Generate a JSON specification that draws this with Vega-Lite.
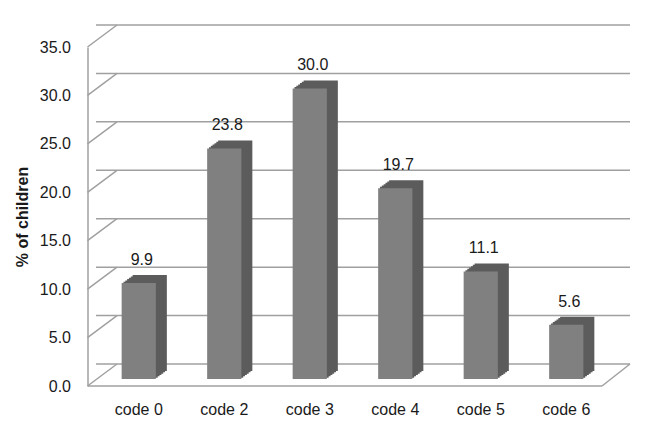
{
  "$schema": "https://vega.github.io/schema/vega-lite/v6.json",
  "width": 513,
  "height": 339,
  "autosize": {"type": "none"},
  "padding": {"left": 96, "top": 47, "right": 37, "bottom": 50},
  "background": "white",
  "config": {
    "view": {"stroke": null},
    "font": "Liberation Sans",
    "axisY": {
      "domain": true, "domainColor": "#a0a0a0", "domainWidth": 1.5, "offset": 8.5,
      "ticks": false, "grid": false, "labelPadding": 17, "labelFontSize": 16,
      "labelColor": "#1a1a1a", "labelFont": "Liberation Sans",
      "titleFontSize": 16, "titleFontWeight": "bold", "titleColor": "#1a1a1a",
      "titleFont": "Liberation Sans", "titlePadding": 9,
      "values": [0, 5, 10, 15, 20, 25, 30, 35], "format": ".1f"
    },
    "axisX": {
      "domain": false, "ticks": false, "grid": false, "labelPadding": 15,
      "labelFontSize": 16, "labelColor": "#1a1a1a", "labelAngle": 0, "labelFont": "Liberation Sans"
    }
  },
  "datasets": {
    "bars": [
      {"code": "code 0", "pct": 9.9},
      {"code": "code 2", "pct": 23.8},
      {"code": "code 3", "pct": 30.0},
      {"code": "code 4", "pct": 19.7},
      {"code": "code 5", "pct": 11.1},
      {"code": "code 6", "pct": 5.6}
    ],
    "ticks": [{"v": 0}, {"v": 5}, {"v": 10}, {"v": 15}, {"v": 20}, {"v": 25}, {"v": 30}, {"v": 35}]
  },
  "resolve": {"scale": {"x": "independent"}},
  "layer": [
    {
      "data": {"name": "ticks"},
      "mark": {"type": "rule", "color": "#a0a0a0", "strokeWidth": 1.5, "xOffset": 21, "x2Offset": 22, "yOffset": -22},
      "encoding": {
        "y": {"field": "v", "type": "quantitative", "title": "% of children", "scale": {"domain": [0, 35], "nice": false}}
      }
    },
    {
      "data": {"name": "ticks"},
      "mark": {"type": "rule", "color": "#a0a0a0", "strokeWidth": 1.5, "xOffset": -8.5, "x2Offset": 21, "y2Offset": -22},
      "encoding": {
        "x": {"datum": 0, "type": "quantitative", "scale": {"domain": [0, 1]}, "axis": null},
        "x2": {"datum": 0},
        "y": {"field": "v", "type": "quantitative", "title": "% of children"},
        "y2": {"field": "v"}
      }
    },
    {
      "data": {"name": "ticks"},
      "transform": [{"filter": "datum.v === 0"}],
      "mark": {"type": "rule", "color": "#a0a0a0", "strokeWidth": 1.5, "xOffset": -8, "x2Offset": -7},
      "encoding": {
        "x": {"datum": 0, "type": "quantitative", "scale": {"domain": [0, 1]}, "axis": null},
        "x2": {"datum": 1},
        "y": {"field": "v", "type": "quantitative", "title": "% of children"}
      }
    },
    {
      "data": {"name": "ticks"},
      "transform": [{"filter": "datum.v === 0"}],
      "mark": {"type": "rule", "color": "#a0a0a0", "strokeWidth": 1.5, "xOffset": -7, "x2Offset": 21, "y2Offset": -22},
      "encoding": {
        "x": {"datum": 1, "type": "quantitative", "scale": {"domain": [0, 1]}, "axis": null},
        "x2": {"datum": 1},
        "y": {"field": "v", "type": "quantitative", "title": "% of children"},
        "y2": {"field": "v"}
      }
    },
    {
      "data": {"name": "bars"},
      "mark": {"type": "bar", "color": "#5c5c5c", "xOffset": 11, "x2Offset": 11, "yOffset": -15, "y2Offset": -15},
      "encoding": {
        "x": {"field": "code", "type": "nominal", "sort": null, "scale": {"paddingInner": 0.6, "paddingOuter": 0.3}, "axis": null},
        "y": {"field": "pct", "type": "quantitative", "title": "% of children"}
      }
    },
    {
      "data": {"name": "bars"},
      "mark": {"type": "bar", "color": "#5c5c5c", "xOffset": 9.17, "x2Offset": 9.17, "yOffset": -13.67, "y2Offset": -13.67},
      "encoding": {
        "x": {"field": "code", "type": "nominal", "sort": null, "scale": {"paddingInner": 0.6, "paddingOuter": 0.3}, "axis": null},
        "y": {"field": "pct", "type": "quantitative", "title": "% of children"}
      }
    },
    {
      "data": {"name": "bars"},
      "mark": {"type": "bar", "color": "#5c5c5c", "xOffset": 7.33, "x2Offset": 7.33, "yOffset": -12.33, "y2Offset": -12.33},
      "encoding": {
        "x": {"field": "code", "type": "nominal", "sort": null, "scale": {"paddingInner": 0.6, "paddingOuter": 0.3}, "axis": null},
        "y": {"field": "pct", "type": "quantitative", "title": "% of children"}
      }
    },
    {
      "data": {"name": "bars"},
      "mark": {"type": "bar", "color": "#5c5c5c", "xOffset": 5.5, "x2Offset": 5.5, "yOffset": -11, "y2Offset": -11},
      "encoding": {
        "x": {"field": "code", "type": "nominal", "sort": null, "scale": {"paddingInner": 0.6, "paddingOuter": 0.3}, "axis": null},
        "y": {"field": "pct", "type": "quantitative", "title": "% of children"}
      }
    },
    {
      "data": {"name": "bars"},
      "mark": {"type": "bar", "color": "#5c5c5c", "xOffset": 3.67, "x2Offset": 3.67, "yOffset": -9.67, "y2Offset": -9.67},
      "encoding": {
        "x": {"field": "code", "type": "nominal", "sort": null, "scale": {"paddingInner": 0.6, "paddingOuter": 0.3}, "axis": null},
        "y": {"field": "pct", "type": "quantitative", "title": "% of children"}
      }
    },
    {
      "data": {"name": "bars"},
      "mark": {"type": "bar", "color": "#5c5c5c", "xOffset": 1.83, "x2Offset": 1.83, "yOffset": -8.33, "y2Offset": -8.33},
      "encoding": {
        "x": {"field": "code", "type": "nominal", "sort": null, "scale": {"paddingInner": 0.6, "paddingOuter": 0.3}, "axis": null},
        "y": {"field": "pct", "type": "quantitative", "title": "% of children"}
      }
    },
    {
      "data": {"name": "bars"},
      "mark": {"type": "bar", "color": "#808080", "yOffset": -7, "y2Offset": -7},
      "encoding": {
        "x": {"field": "code", "type": "nominal", "sort": null, "scale": {"paddingInner": 0.6, "paddingOuter": 0.3}, "axis": {"title": null}},
        "y": {"field": "pct", "type": "quantitative", "title": "% of children"}
      }
    },
    {
      "data": {"name": "bars"},
      "mark": {"type": "text", "fontSize": 16, "color": "#1a1a1a", "baseline": "middle", "dx": 3, "dy": -30, "font": "Liberation Sans"},
      "encoding": {
        "x": {"field": "code", "type": "nominal", "sort": null, "scale": {"paddingInner": 0.6, "paddingOuter": 0.3}, "axis": null},
        "y": {"field": "pct", "type": "quantitative", "title": "% of children"},
        "text": {"field": "pct", "type": "quantitative", "format": ".1f"}
      }
    }
  ]
}
